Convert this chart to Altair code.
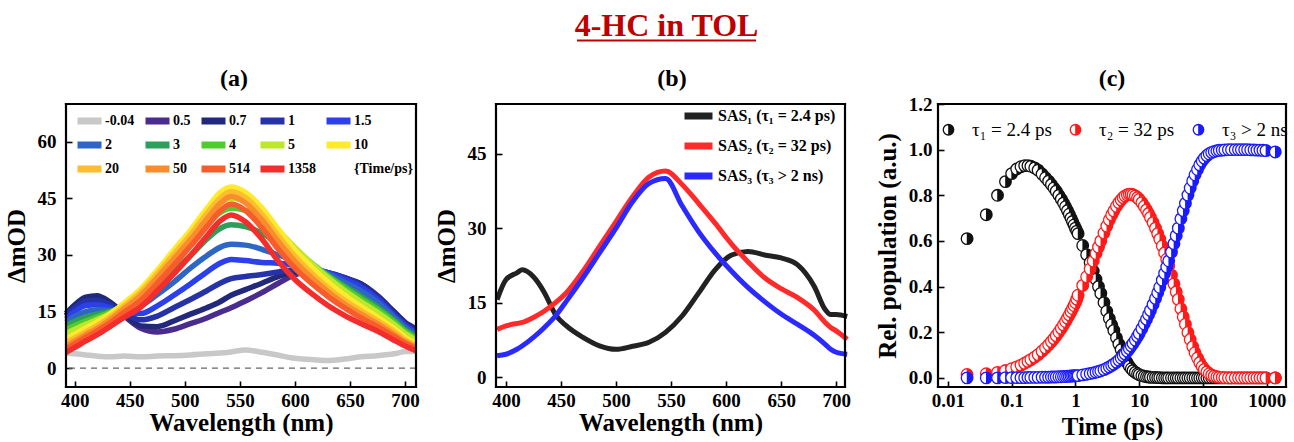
import altair as alt
import pandas as pd

FONT = "Liberation Serif"
TITLE_RED = "#C00000"

# ---------------- panel (a): transient spectra ----------------
WL_A = [392, 400, 410, 420, 432, 445, 460, 475, 490, 505, 520, 532, 542,
        555, 570, 585, 600, 615, 630, 645, 660, 675, 690, 700, 710]
TIME_LABELS_A = ["-0.04", "0.5", "0.7", "1", "1.5", "2", "3", "4", "5",
                 "10", "20", "50", "514", "1358"]
COLORS_A = ["#C8C8C8", "#4A2C8F", "#22297A", "#2633A6", "#2B3FEA", "#2E66C6",
            "#2F9E5A", "#4FCB2F", "#BDE72D", "#FFEA2B", "#FDBD30", "#F98C2C",
            "#F95C2C", "#F42C2C"]
A_M004 = [4.0, 3.8, 3.5, 3.2, 3.0, 3.2, 3.0, 3.2, 3.3, 3.5, 3.8, 4.0, 4.3, 4.8, 4.2, 3.4, 2.6, 2.3, 2.0, 2.4, 3.0, 3.3, 3.8, 4.4, 4.5]
A_05 = [14.0, 16.3, 18.3, 18.8, 17.0, 13.8, 10.6, 9.6, 10.3, 11.8, 13.3, 14.8, 16.0, 17.8, 20.0, 22.5, 24.8, 25.6, 25.0, 23.8, 22.3, 19.2, 15.0, 12.2, 10.5]
A_07 = [14.5, 16.8, 18.8, 19.2, 17.5, 14.3, 11.2, 11.0, 12.5, 14.3, 16.0, 17.6, 19.3, 20.8, 22.5, 24.3, 25.6, 26.0, 25.3, 24.0, 22.3, 19.0, 14.8, 12.0, 10.3]
A_1 = [13.8, 16.0, 17.8, 18.0, 16.8, 14.5, 12.8, 13.8, 16.0, 18.2, 20.5, 22.5, 23.7, 24.3, 24.8, 25.5, 26.0, 26.0, 25.3, 24.0, 22.0, 18.8, 14.4, 11.6, 9.8]
A_15 = [13.0, 15.0, 16.6, 16.8, 16.0, 14.6, 14.5, 16.5, 19.3, 22.3, 25.5, 27.8, 28.8, 28.5, 28.0, 27.8, 27.3, 26.5, 25.3, 23.6, 21.5, 18.3, 14.0, 11.3, 9.5]
A_2 = [12.2, 13.8, 15.0, 15.5, 15.3, 15.2, 16.5, 19.5, 22.8, 26.5, 29.8, 32.0, 32.8, 32.6, 31.5, 30.0, 28.5, 26.8, 25.0, 22.8, 20.5, 17.5, 13.5, 10.8, 9.0]
A_3 = [11.2, 12.4, 13.5, 14.3, 15.0, 16.2, 18.5, 22.0, 25.8, 29.8, 34.2, 37.0, 38.0, 37.5, 35.8, 33.0, 30.0, 27.3, 24.5, 21.8, 19.0, 16.2, 12.8, 10.2, 8.4]
A_4 = [10.3, 11.3, 12.5, 13.5, 14.8, 16.6, 19.6, 23.8, 28.3, 32.8, 37.8, 41.2, 42.4, 41.8, 39.3, 35.5, 31.6, 27.9, 24.5, 21.3, 18.4, 15.6, 12.3, 9.8, 8.0]
A_5 = [9.2, 10.3, 11.6, 12.8, 14.5, 16.9, 20.3, 24.9, 29.8, 34.8, 40.0, 43.8, 45.0, 44.2, 41.0, 36.5, 32.0, 27.8, 24.0, 20.6, 17.6, 14.8, 11.6, 9.2, 7.5]
A_10 = [7.8, 9.0, 10.6, 12.2, 14.3, 17.3, 21.0, 26.0, 31.3, 36.5, 42.3, 46.5, 48.0, 46.6, 42.5, 36.8, 31.3, 26.8, 22.8, 19.3, 16.3, 13.5, 10.5, 8.2, 6.6]
A_20 = [6.8, 8.0, 9.6, 11.2, 13.5, 16.5, 20.2, 25.0, 30.2, 35.3, 41.0, 45.0, 46.8, 45.2, 40.8, 35.0, 29.6, 25.2, 21.3, 18.0, 15.2, 12.6, 9.7, 7.5, 6.0]
A_50 = [5.8, 7.2, 8.9, 10.5, 12.8, 15.8, 19.3, 24.0, 29.0, 34.0, 39.5, 43.6, 45.5, 43.8, 39.3, 33.5, 28.3, 24.0, 20.3, 17.0, 14.3, 11.8, 9.0, 7.0, 5.6]
A_514 = [5.0, 6.5, 8.2, 9.8, 12.0, 14.8, 18.0, 22.5, 27.3, 32.3, 37.5, 41.6, 43.5, 41.8, 37.2, 31.5, 26.5, 22.5, 19.0, 16.0, 13.3, 11.0, 8.4, 6.6, 5.2]
A_1358 = [4.2, 5.5, 7.2, 8.8, 11.0, 13.5, 16.2, 20.5, 25.0, 29.8, 35.0, 39.0, 40.6, 38.8, 34.2, 28.3, 23.5, 19.8, 16.6, 14.0, 11.8, 9.8, 7.4, 5.9, 4.6]
SERIES_A = [A_M004, A_05, A_07, A_1, A_15, A_2, A_3, A_4, A_5, A_10, A_20, A_50, A_514, A_1358]
LEGEND_NOTE_A = "{Time/ps}"

# ---------------- panel (b): SAS ----------------
WL_B = [392, 400, 410, 415, 425, 435, 445, 455, 470, 485, 500, 515, 530, 545,
        560, 575, 590, 605, 620, 635, 650, 665, 680, 690, 695, 700, 710]
SAS_LABELS = ["SAS\u2081 (\u03c4\u2081 = 2.4 ps)", "SAS\u2082 (\u03c4\u2082 = 32 ps)", "SAS\u2083  (\u03c4\u2083 > 2 ns)"]
SAS_COLORS = ["#222222", "#FF2A2A", "#2A2AFF"]
SAS1 = [15.6, 19.6, 21.0, 21.6, 20.2, 17.0, 12.6, 10.3, 8.0, 6.3, 5.6, 6.2, 7.0, 9.0, 12.3, 16.9, 21.6, 24.6, 25.3, 24.6, 24.0, 22.6, 18.3, 13.6, 12.6, 12.6, 12.2]
SAS2 = [9.6, 10.3, 10.8, 11.0, 12.0, 13.3, 15.0, 17.0, 21.3, 26.3, 31.3, 36.3, 40.3, 41.5, 38.8, 35.0, 31.0, 26.8, 23.2, 20.0, 17.8, 16.0, 13.5, 11.0, 10.0, 9.3, 7.6]
SAS3 = [4.3, 4.6, 5.6, 6.3, 8.0, 10.0, 12.3, 15.3, 20.0, 25.0, 30.0, 35.3, 39.0, 40.0, 34.5, 29.3, 25.0, 21.3, 18.0, 15.2, 12.7, 10.6, 8.4, 6.6, 5.6, 5.0, 4.6]

# ---------------- panel (c): populations ----------------
T_C = [0.02, 0.04, 0.06, 0.08, 0.10, 0.12, 0.14, 0.16, 0.18, 0.20, 0.23, 0.26, 0.30, 0.34, 0.38,
       0.42, 0.46, 0.50, 0.55, 0.60, 0.65, 0.70, 0.75, 0.80, 0.85, 0.90, 0.95, 1.00, 1.05, 1.10,
       1.3, 1.5, 1.7, 1.9, 2.1, 2.3, 2.5, 2.8, 3.1, 3.4, 3.7, 4.0, 4.4, 4.8, 5.2, 5.6, 6.0, 6.5,
       7.0, 7.5, 8.0, 8.7, 9.4, 10,
       11, 12, 13, 14, 15, 16.5, 18, 19.5, 21, 23, 25, 27, 29, 32, 35, 38, 41, 45, 49, 53, 58,
       63, 69, 75, 82, 89, 97, 105, 115, 125, 137, 150, 165, 180, 200,
       220, 250, 280, 320, 360, 400, 450, 500, 560, 630, 700, 780, 870, 970, 1358]
POP_LABELS = ["\u03c4\u2081 = 2.4 ps", "\u03c4\u2082 = 32 ps", "\u03c4\u2083 > 2 ns"]
POP_COLORS = ["#111111", "#FF1A1A", "#1A1AFF"]
POP1 = [0.61, 0.715, 0.80, 0.86, 0.895, 0.915, 0.925, 0.93, 0.93, 0.927, 0.92, 0.91, 0.893, 0.877, 0.862,
        0.847, 0.832, 0.818, 0.80, 0.783, 0.766, 0.75, 0.733, 0.717, 0.70, 0.685, 0.67, 0.656, 0.643, 0.632,
        0.58, 0.54, 0.505, 0.468, 0.432, 0.40, 0.37, 0.33, 0.292, 0.26, 0.233, 0.208, 0.176, 0.148, 0.124,
        0.103, 0.085, 0.066, 0.051, 0.04, 0.032, 0.024, 0.018, 0.014,
        0.010, 0.007, 0.005, 0.004, 0.003, 0.002, 0.002, 0.001, 0.001, 0, 0, 0, 0, 0, 0, 0, 0, 0, 0,
        0, 0, 0, 0, 0, 0, 0, 0, 0, 0, 0, 0, 0, 0, 0, 0,
        0, 0, 0, 0, 0, 0, 0, 0, 0, 0, 0, 0, 0, 0, 0]
POP2 = [0.015, 0.018, 0.024, 0.032, 0.04, 0.048, 0.056, 0.064, 0.072, 0.08, 0.091, 0.102, 0.117, 0.131, 0.145,
        0.159, 0.172, 0.185, 0.201, 0.217, 0.232, 0.247, 0.262, 0.276, 0.29, 0.304, 0.317, 0.33, 0.345, 0.362,
        0.405, 0.443, 0.477, 0.512, 0.545, 0.573, 0.60, 0.635, 0.665, 0.692, 0.714, 0.732, 0.752, 0.768, 0.78,
        0.79, 0.797, 0.802, 0.805, 0.805, 0.802, 0.797, 0.79, 0.782,
        0.768, 0.752, 0.736, 0.72, 0.703, 0.68, 0.656, 0.632, 0.608, 0.578, 0.548, 0.52, 0.49, 0.45, 0.412,
        0.377, 0.344, 0.303, 0.267, 0.235, 0.199, 0.168, 0.137, 0.11, 0.087, 0.067, 0.05, 0.037, 0.026, 0.018,
        0.012, 0.008, 0.005, 0.003, 0.002,
        0.001, 0, 0, 0, 0, 0, 0, 0, 0, 0, 0, 0, 0, 0, 0]
POP3 = [0.0, 0.0, 0.0, 0.001, 0.001, 0.001, 0.001, 0.001, 0.002, 0.002, 0.002, 0.002, 0.003, 0.003, 0.003,
        0.004, 0.004, 0.004, 0.005, 0.005, 0.006, 0.006, 0.007, 0.007, 0.008, 0.008, 0.009, 0.009, 0.01, 0.01,
        0.013, 0.016, 0.019, 0.022, 0.025, 0.028, 0.031, 0.036, 0.042, 0.048, 0.054, 0.06, 0.069, 0.078, 0.087,
        0.096, 0.105, 0.117, 0.128, 0.14, 0.151, 0.166, 0.182, 0.195,
        0.216, 0.237, 0.257, 0.277, 0.296, 0.322, 0.348, 0.373, 0.397, 0.428, 0.458, 0.486, 0.513, 0.551, 0.588,
        0.623, 0.656, 0.697, 0.733, 0.765, 0.801, 0.832, 0.863, 0.89, 0.913, 0.933, 0.95, 0.963, 0.974, 0.982,
        0.988, 0.992, 0.995, 0.997, 0.998,
        0.999, 1.0, 1.0, 1.0, 1.0, 1.0, 1.0, 1.0, 0.999, 0.999, 0.998, 0.998, 0.997, 0.996, 0.99]

for s in SERIES_A:
    assert len(s) == len(WL_A)
for s in (SAS1, SAS2, SAS3):
    assert len(s) == len(WL_B)
for s in (POP1, POP2, POP3):
    assert len(s) == len(T_C)

# ---------------- tables ----------------
rows_a = []
for k, (lab, vals) in enumerate(zip(TIME_LABELS_A, SERIES_A)):
    for w, v in zip(WL_A, vals):
        rows_a.append({"wl": w, "v": v, "t": lab, "k": k})
df_a = pd.DataFrame(rows_a)

rows_b = []
for k, (lab, vals) in enumerate(zip(SAS_LABELS, (SAS1, SAS2, SAS3))):
    for w, v in zip(WL_B, vals):
        rows_b.append({"wl": w, "v": v, "s": lab, "k": k})
df_b = pd.DataFrame(rows_b)

rows_c = []
for k, (lab, vals) in enumerate(zip(POP_LABELS, (POP1, POP2, POP3))):
    for t, v in zip(T_C, vals):
        rows_c.append({"t": t, "v": v, "s": lab, "k": k})
df_c = pd.DataFrame(rows_c)

# ---------------- styling helpers ----------------
def axis(values, title, label_pad, title_pad, **kw):
    return alt.Axis(values=values, title=title, offset=-6, tickSize=6, tickWidth=1.6,
                    tickColor="#000000", domain=False, grid=False, labelFlush=False,
                    labelOverlap=False, labelFont=FONT, labelFontSize=19,
                    labelFontWeight="bold", labelColor="black", labelPadding=label_pad,
                    titleFont=FONT, titleFontSize=25, titleFontWeight="bold",
                    titleColor="black", titlePadding=title_pad, **kw)

def text_note(txt, x, y, size, color="black", align="center", baseline="middle"):
    return alt.Chart(pd.DataFrame({"txt": [txt]})).mark_text(
        font=FONT, fontSize=size, fontWeight="bold", color=color, align=align,
        baseline=baseline).encode(text="txt:N", x=alt.value(x), y=alt.value(y))

def frame(w, h):
    # plot-area border drawn as four rules along the edges of the panel
    base = alt.Chart(pd.DataFrame({"f": [0]})).mark_rule(color="#000000", strokeWidth=2.2,
                                                         strokeCap="square")
    return alt.layer(
        base.encode(x=alt.value(0), x2=alt.value(w), y=alt.value(0)),
        base.encode(x=alt.value(0), x2=alt.value(w), y=alt.value(h)),
        base.encode(x=alt.value(0), y=alt.value(0), y2=alt.value(h)),
        base.encode(x=alt.value(w), y=alt.value(0), y2=alt.value(h)),
    )

W_A, W_B, W_C, H = 350, 349, 348, 283

# circle with white inside, right half filled via dense strokes
hatch = []
for x in [0.06, 0.2, 0.34, 0.48, 0.62, 0.76, 0.88, 0.96]:
    h = (1 - x * x) ** 0.5 * 0.97
    hatch.append(f"M{x:.2f},{-h:.3f}L{x:.2f},{h:.3f}")
MARKER = "M-1,0A1,1 0 1,1 1,0A1,1 0 1,1 -1,0Z" + "".join(hatch)

# ---------------- panel (a) ----------------
lines_a = alt.Chart(df_a).mark_line(strokeWidth=5.5, interpolate="monotone").encode(
    x=alt.X("wl:Q", scale=alt.Scale(domain=[392, 710], nice=False, zero=False),
            axis=axis([400, 450, 500, 550, 600, 650, 700], "Wavelength (nm)", 4, 0)),
    y=alt.Y("v:Q", scale=alt.Scale(domain=[-5, 70], nice=False, zero=False),
            axis=axis([0, 15, 30, 45, 60], "\u0394mOD", 10, 8)),
    color=alt.Color("t:N", sort=None,
                    scale=alt.Scale(domain=TIME_LABELS_A + [LEGEND_NOTE_A],
                                    range=COLORS_A + ["rgba(0,0,0,0)"]),
                    legend=alt.Legend(orient="none", legendX=8, legendY=9, direction="horizontal",
                                      columns=5, title=None, symbolType="stroke", symbolSize=576,
                                      symbolStrokeWidth=7, labelFont=FONT, labelFontSize=14,
                                      labelFontWeight="bold", labelColor="black", labelOffset=0,
                                      columnPadding=7, rowPadding=8, clipHeight=16, padding=0,
                                      gridAlign="each")),
    order=alt.Order("k:Q"),
)
zero_a = alt.Chart(pd.DataFrame({"y": [0]})).mark_rule(
    color="#666666", strokeWidth=1.3, strokeDash=[6, 5]).encode(y="y:Q")
panel_a = alt.layer(zero_a, lines_a, text_note("(a)", 168, -25, 24), frame(W_A, H)).properties(
    width=W_A, height=H)

# ---------------- panel (b) ----------------
lines_b = alt.Chart(df_b).mark_line(strokeWidth=5, interpolate="monotone").encode(
    x=alt.X("wl:Q", scale=alt.Scale(domain=[391, 708], nice=False, zero=False),
            axis=axis([400, 450, 500, 550, 600, 650, 700], "Wavelength (nm)", 4, 0)),
    y=alt.Y("v:Q", scale=alt.Scale(domain=[-2, 55], nice=False, zero=False),
            axis=axis([0, 15, 30, 45], "\u0394mOD", 10, 8)),
    color=alt.Color("s:N", sort=None, scale=alt.Scale(domain=SAS_LABELS, range=SAS_COLORS),
                    legend=alt.Legend(orient="none", legendX=185, legendY=1, direction="vertical",
                                      title=None, symbolType="stroke", symbolSize=784,
                                      symbolStrokeWidth=7, labelFont=FONT, labelFontSize=16,
                                      labelFontWeight="bold", labelColor="black", labelOffset=2,
                                      rowPadding=8, clipHeight=22, padding=0)),
)
head_line = alt.Chart(pd.DataFrame({"u": [0]})).mark_rule(color=TITLE_RED, strokeWidth=2.2).encode(
    x=alt.value(81), x2=alt.value(260), y=alt.value(-63.5))
panel_b = alt.layer(
    lines_b,
    text_note("4-HC in TOL", 170.5, -68, 32, color=TITLE_RED, baseline="alphabetic"),
    head_line,
    text_note("(b)", 176, -25, 24),
    frame(W_B, H),
).properties(width=W_B, height=H)

# ---------------- panel (c) ----------------
pts_c = alt.Chart(df_c).mark_point(shape=MARKER, filled=False, fill="white", size=135,
                                   strokeWidth=1.3, opacity=1).encode(
    x=alt.X("t:Q", scale=alt.Scale(type="log", domain=[0.007, 2000], nice=False),
            axis=axis([0.01, 0.1, 1, 10, 100, 1000], "Time (ps)", 4, 4,
                      labelExpr="datum.value < 1 ? toString(datum.value) : format(datum.value, 'd')")),
    y=alt.Y("v:Q", scale=alt.Scale(domain=[-0.04, 1.2], nice=False, zero=False),
            axis=axis([0, 0.2, 0.4, 0.6, 0.8, 1.0, 1.2], "Rel. population (a.u.)", 6, 8,
                      format=".1f")),
    color=alt.Color("s:N", sort=None, scale=alt.Scale(domain=POP_LABELS, range=POP_COLORS),
                    legend=alt.Legend(orient="none", legendX=1, legendY=16, direction="horizontal",
                                      title=None, symbolType=MARKER, symbolSize=110,
                                      symbolStrokeWidth=1.3, symbolFillColor="white",
                                      labelFont=FONT, labelFontSize=19, labelColor="black",
                                      labelOffset=14, columnPadding=14, padding=0)),
    order=alt.Order("k:Q"),
)
panel_c = alt.layer(pts_c, text_note("(c)", 174, -25, 24), frame(W_C, H)).properties(
    width=W_C, height=H)

indep = dict(color="independent", x="independent", y="independent")
right = alt.hconcat(panel_b, panel_c, spacing=93, bounds="flush").resolve_scale(**indep)

chart = alt.hconcat(panel_a, right, spacing=80, bounds="flush").resolve_scale(**indep).properties(
    padding={"left": 3, "top": 9, "right": 0, "bottom": 0}
).configure(background="white", view=alt.ViewConfig(stroke="#000000", strokeWidth=2))

chart.save("out.html", embed_options={"renderer": "svg", "actions": False})
